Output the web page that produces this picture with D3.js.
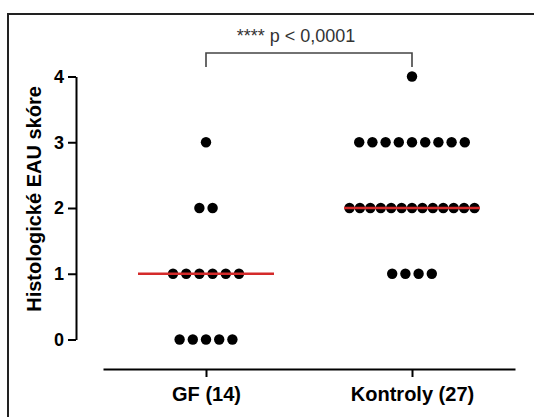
<!DOCTYPE html>
<html>
<head>
<meta charset="utf-8">
<script src="https://cdn.jsdelivr.net/npm/d3@7"></script>
<style>
  html, body { margin: 0; padding: 0; background: #fff; }
  svg { display: block; font-family: "Liberation Sans", Arial, Helvetica, sans-serif; }
</style>
</head>
<body>
<svg id="chart" width="534" height="417"></svg>
<script>
// ---- data ----
const categories = ["GF (14)", "Kontroly (27)"];
const gfValues = [3, 2, 2, 1, 1, 1, 1, 1, 1, 0, 0, 0, 0, 0];
const kontrolyValues = [4, 3, 3, 3, 3, 3, 3, 3, 3, 3,
  2, 2, 2, 2, 2, 2, 2, 2, 2, 2, 2, 2, 2, 1, 1, 1, 1];
const medians = [1, 2];
const yTicks = [0, 1, 2, 3, 4];
const yTitle = "Histologické EAU skóre";
const annotation = "**** p < 0,0001";

const seriesValues = [gfValues, kontrolyValues];

const svg = d3.select("#chart");

// outer frame
svg.append("rect")
  .attr("x", 8).attr("y", 14)
  .attr("width", 600).attr("height", 500)
  .attr("fill", "none").attr("stroke", "#222").attr("stroke-width", 2);

const x = d3.scalePoint().domain(categories).range([103, 515]).padding(0.5);
const y = d3.scaleLinear().domain([0, 4]).range([339.5, 76.5]);

// Y axis
const yAxisG = svg.append("g").attr("transform", "translate(76,0)")
  .call(d3.axisLeft(y).tickValues(yTicks).tickFormat(d3.format("d")).tickSize(8).tickSizeOuter(0).tickPadding(4));
yAxisG.attr("font-size", null).attr("font-family", null);
yAxisG.select(".domain").attr("stroke", "#000").attr("stroke-width", 2);
yAxisG.selectAll(".tick line").attr("stroke", "#000").attr("stroke-width", 2);
yAxisG.selectAll(".tick text")
  .style("font-size", "18px").style("font-weight", "bold").style("fill", "#000")
  .style("font-family", "'Liberation Sans', Arial, sans-serif");

// X axis
const xAxisG = svg.append("g").attr("transform", "translate(0,369)")
  .call(d3.axisBottom(x).tickSize(8).tickSizeOuter(0).tickPadding(10));
xAxisG.attr("font-size", null).attr("font-family", null);
xAxisG.select(".domain").attr("stroke", "#000").attr("stroke-width", 2);
xAxisG.selectAll(".tick line").attr("stroke", "#000").attr("stroke-width", 2);
xAxisG.selectAll(".tick text")
  .style("font-size", "20px").style("font-weight", "bold").style("fill", "#000")
  .style("font-family", "'Liberation Sans', Arial, sans-serif");

// Y title
svg.append("text")
  .attr("transform", "translate(41,199) rotate(-90)")
  .attr("text-anchor", "middle")
  .style("font-size", "20px").style("font-weight", "bold").style("fill", "#000")
  .text(yTitle);

// scatter dots (dot-plot layout)
const baseSpacing = 13.2, maxWidth = 125;
const points = [];
seriesValues.forEach((vals, i) => {
  const groups = d3.group(vals, v => v);
  groups.forEach((arr, v) => {
    const n = arr.length;
    const sp = n > 1 ? Math.min(baseSpacing, maxWidth / (n - 1)) : 0;
    arr.forEach((_, k) => {
      points.push({ cat: categories[i], v: v, off: (k - (n - 1) / 2) * sp });
    });
  });
});
svg.append("g").selectAll("circle").data(points).join("circle")
  .attr("cx", d => x(d.cat) + d.off)
  .attr("cy", d => y(d.v))
  .attr("r", 5.2)
  .attr("fill", "#000");

// median lines
const halfW = 68;
svg.append("g").selectAll("line").data(medians).join("line")
  .attr("x1", (d, i) => x(categories[i]) - halfW)
  .attr("x2", (d, i) => x(categories[i]) + halfW)
  .attr("y1", d => y(d)).attr("y2", d => y(d))
  .attr("stroke", "#d42a2a").attr("stroke-width", 2.5);

// significance bracket
const bx1 = x(categories[0]), bx2 = x(categories[1]);
svg.append("path")
  .attr("d", `M${bx1},67V53H${bx2}V67`)
  .attr("fill", "none").attr("stroke", "#444").attr("stroke-width", 1.6);
svg.append("text")
  .attr("x", (bx1 + bx2) / 2 - 13).attr("y", 42)
  .attr("text-anchor", "middle")
  .style("font-size", "18px").style("fill", "#333")
  .text(annotation);
</script>
</body>
</html>
